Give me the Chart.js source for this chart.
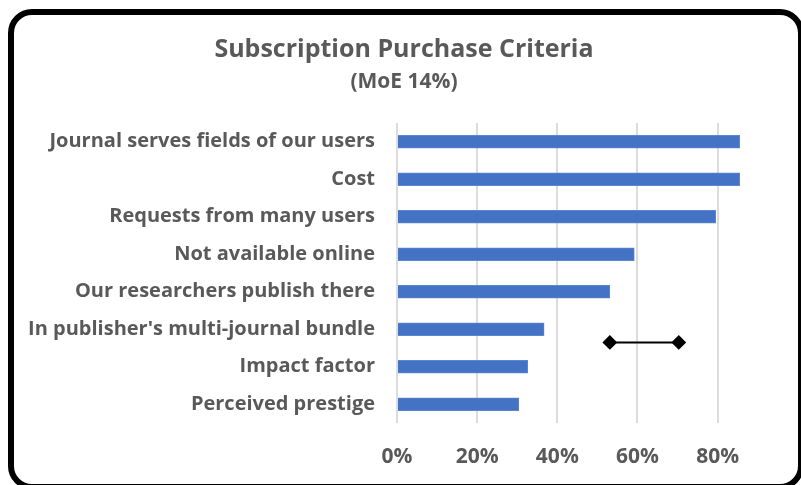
<!DOCTYPE html>
<html>
<head>
<meta charset="utf-8">
<script src="https://cdn.jsdelivr.net/npm/chart.js@4.4.1/dist/chart.umd.min.js"></script>
<style>
  html, body { margin: 0; padding: 0; background: #fff; overflow: hidden; }
  #frame {
    position: absolute; left: 8px; top: 9px; width: 796px; height: 481px;
    box-sizing: border-box; border: 6px solid #000; border-radius: 24px; background: #fff;
  }
  #wrap { position: absolute; left: 0; top: 0; width: 801px; height: 485px; }
</style>
</head>
<body>
<div id="frame"></div>
<div id="wrap"><canvas id="chart" width="801" height="485"></canvas></div>
<script>
// values (percent)
const categories = [
    "Journal serves fields of our users",
    "Cost",
    "Requests from many users",
    "Not available online",
    "Our researchers publish there",
    "In publisher's multi-journal bundle",
    "Impact factor",
    "Perceived prestige"
];
const shares = [85.5, 85.5, 79.5, 59.2, 53.1, 36.7, 32.6, 30.4];

// margin-of-error marker: two ends and the row position it sits at
const moeEnds = [53.1, 70.3];
const moeRow = 5.35;

const xTicks = [0, 20, 40, 60, 80];

const grey = '#595959';
const fontFamily = "'Open Sans', sans-serif";

const ctx = document.getElementById('chart').getContext('2d');
new Chart(ctx, {
    data: {
        labels: categories,
        datasets: [
            {
                type: 'bar',
                data: shares,
                backgroundColor: '#4472C4',
                borderColor: '#5b86d0',
                borderWidth: 1,
                barThickness: 13,
                grouped: false,
                xAxisID: 'x',
                yAxisID: 'y'
            },
            {
                type: 'line',
                indexAxis: 'x',
                data: moeEnds.map(v => ({ x: v, y: moeRow })),
                borderColor: '#000',
                borderWidth: 2,
                pointStyle: 'rectRot',
                pointRadius: 6,
                pointBackgroundColor: '#000',
                pointBorderColor: '#000',
                fill: false,
                xAxisID: 'x',
                yAxisID: 'yMoe'
            }
        ]
    },
    options: {
        indexAxis: 'y',
        responsive: false,
        animation: false,
        layout: { padding: { left: 25, right: 18, top: 0, bottom: 15 } },
        scales: {
            x: {
                type: 'linear',
                min: 0,
                max: 96.3,
                afterBuildTicks: scale => { scale.ticks = xTicks.map(v => ({ value: v })); },
                afterFit: scale => { scale.height = 47; },
                ticks: {
                    padding: 21,
                    color: grey,
                    font: { family: fontFamily, size: 21, weight: 'bold' },
                    callback: v => v + '%'
                },
                grid: { color: '#dcdcdc', lineWidth: 2, drawTicks: false },
                border: { display: false }
            },
            y: {
                type: 'category',
                offset: true,
                afterFit: scale => { scale.width = 372; },
                ticks: {
                    padding: 22,
                    color: grey,
                    font: { family: fontFamily, size: 20, weight: 'bold' }
                },
                grid: { display: false, drawTicks: false },
                border: { display: false }
            },
            yMoe: {
                type: 'linear',
                display: false,
                reverse: true,
                min: -0.5,
                max: 7.5
            }
        },
        plugins: {
            legend: { display: false },
            tooltip: { enabled: false },
            title: {
                display: true,
                text: 'Subscription Purchase Criteria',
                color: grey,
                font: { family: fontFamily, size: 25, weight: 'bold', lineHeight: 1.2 },
                padding: { top: 34.5, bottom: 0 }
            },
            subtitle: {
                display: true,
                text: '(MoE 14%)',
                color: grey,
                font: { family: fontFamily, size: 21, weight: 'bold', lineHeight: 1.2 },
                padding: { top: 5.4, bottom: 27.9 }
            }
        }
    }
});
</script>
</body>
</html>
